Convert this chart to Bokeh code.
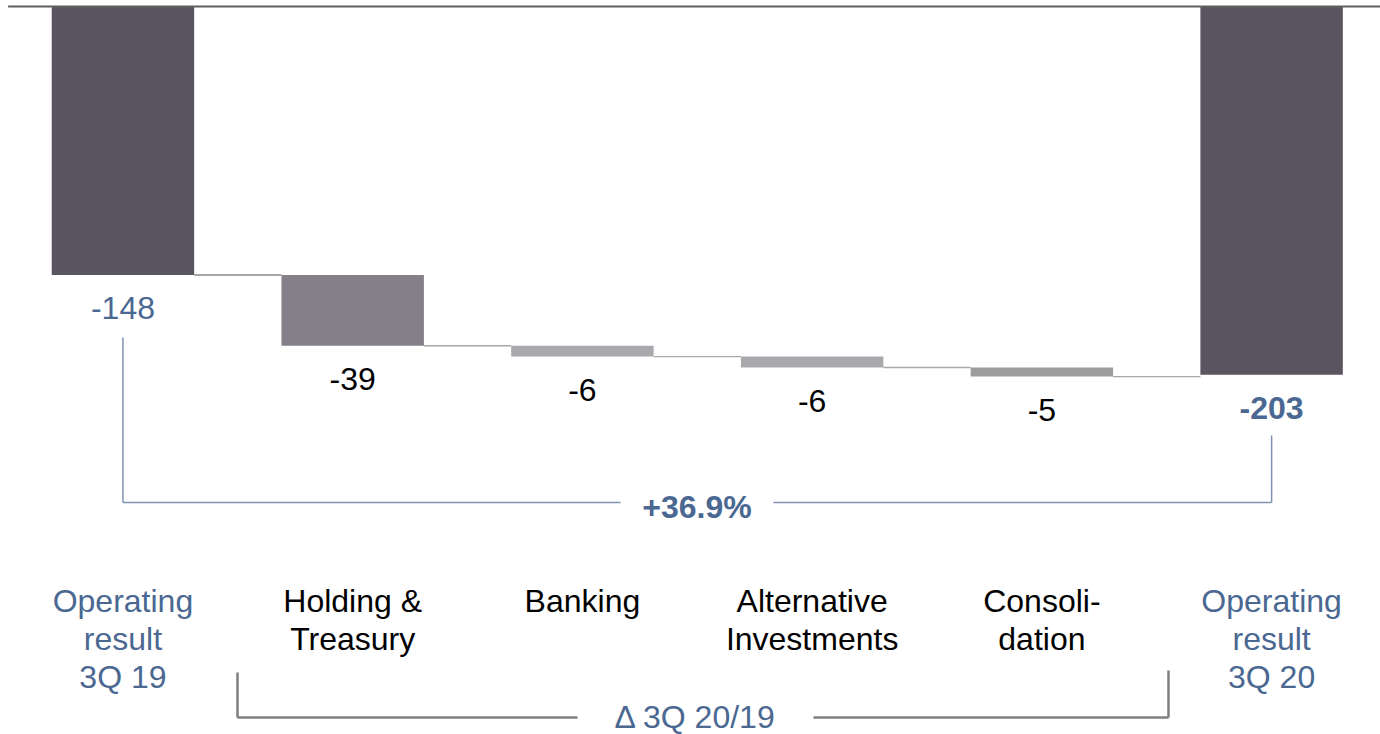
from bokeh.plotting import figure
from bokeh.models import Range1d
from bokeh.core.properties import value
from bokeh.embed import file_html
from bokeh.resources import INLINE

# --- data -------------------------------------------------------------
categories = [
    "Operating\nresult\n3Q 19",
    "Holding &\nTreasury",
    "Banking",
    "Alternative\nInvestments",
    "Consoli-\ndation",
    "Operating\nresult\n3Q 20",
]
values = [-148, -39, -6, -6, -5, -203]
is_total = [True, False, False, False, False, True]
change_label = "+36.9%"
delta_label = "\u0394 3Q 20/19"

# --- styling ----------------------------------------------------------
W, H = 1380, 734
FONT = "Liberation Sans"
FS = "32px"
BLUE = "#4a6891"
bar_colors = ["#5a5560", "#857f8a", "#a9a8ad", "#a9a8ad", "#9d9d9d", "#5a5560"]
BAR_W = 0.62

# data window: category index along x, value along y
X0, X1 = -0.533, 5.474
Y_TOP, Y_BOT = 3.3, -401.3


def py(px):
    """Screen pixel row -> value units (for annotation placement)."""
    return Y_TOP - px * (Y_TOP - Y_BOT) / H


def px_x(px):
    """Screen pixel column -> category index units."""
    return X0 + px * (X1 - X0) / W


# waterfall geometry
xs = list(range(len(values)))
tops, bottoms = [], []
running = 0
for v, total in zip(values, is_total):
    if total:
        tops.append(0)
        bottoms.append(v)
        running = v
    else:
        tops.append(running)
        bottoms.append(running + v)
        running += v

p = figure(width=W, height=H, x_range=Range1d(X0, X1), y_range=Range1d(Y_BOT, Y_TOP),
           output_backend="svg", toolbar_location=None, min_border=0)
p.axis.visible = False
p.grid.visible = False
p.outline_line_color = None
p.background_fill_color = "white"
p.border_fill_color = "white"

# bars
p.vbar(x=xs, width=BAR_W, top=tops, bottom=bottoms, fill_color=bar_colors, line_color=None)

# baseline at zero along the top
p.segment(x0=[-0.5], y0=[0], x1=[X1 + 0.1], y1=[0], line_color="#5f5f5f", line_width=2)

# connectors between consecutive bars
cx0 = [x + BAR_W / 2 for x in xs[:-1]]
cx1 = [x - BAR_W / 2 for x in xs[1:]]
cy = bottoms[:-1]
conn_colors = ["#8a8a8a"] + ["#a8a8a8"] * (len(cy) - 1)
p.segment(x0=cx0, y0=cy, x1=cx1, y1=cy, line_color=conn_colors, line_width=1.3)

# value labels under each bar
val_text = [str(v) for v in values]
val_colors = [BLUE if t else "black" for t in is_total]
val_styles = ["normal"] * (len(values) - 1) + ["bold"]
p.text(x=xs, y=bottoms, text=val_text, text_color=val_colors, text_font=value(FONT),
       text_font_size=FS, text_font_style=val_styles, text_align="center",
       text_baseline="alphabetic", y_offset=33)

# category labels
cat_colors = [BLUE if t else "black" for t in is_total]
p.text(x=xs, y=[py(582)] * len(xs), text=categories, text_color=cat_colors,
       text_font=value(FONT), text_font_size=FS, text_align="center",
       text_baseline="top", text_line_height=1.06)

# change bracket between the two totals
up_y = py(502)
gap_l, gap_r = px_x(620), px_x(773)
p.segment(x0=[0, 0, gap_r, 5], y0=[py(337), up_y, up_y, up_y],
          x1=[0, gap_l, 5, 5], y1=[up_y, up_y, up_y, py(435)],
          line_color="#7f92b0", line_width=1.5)
p.text(x=[(gap_l + gap_r) / 2], y=[py(506)], text=[change_label], text_color=BLUE,
       text_font=value(FONT), text_font_size=FS, text_font_style="bold",
       text_align="center", text_baseline="alphabetic")

# delta bracket under the contributing segments
lo_y = py(717)
bl, br = px_x(237), px_x(1168)
dg_l, dg_r = px_x(577), px_x(813)
p.segment(x0=[bl, bl, dg_r, br], y0=[py(672), lo_y, lo_y, lo_y],
          x1=[bl, dg_l, br, br], y1=[lo_y, lo_y, lo_y, py(670)],
          line_color="#7f7f7f", line_width=2.5)
p.text(x=[(dg_l + dg_r) / 2], y=[py(716)], text=[delta_label], text_color=BLUE,
       text_font=value(FONT), text_font_size=FS, text_align="center",
       text_baseline="alphabetic")

open("out.html", "w").write(file_html(p, INLINE))
